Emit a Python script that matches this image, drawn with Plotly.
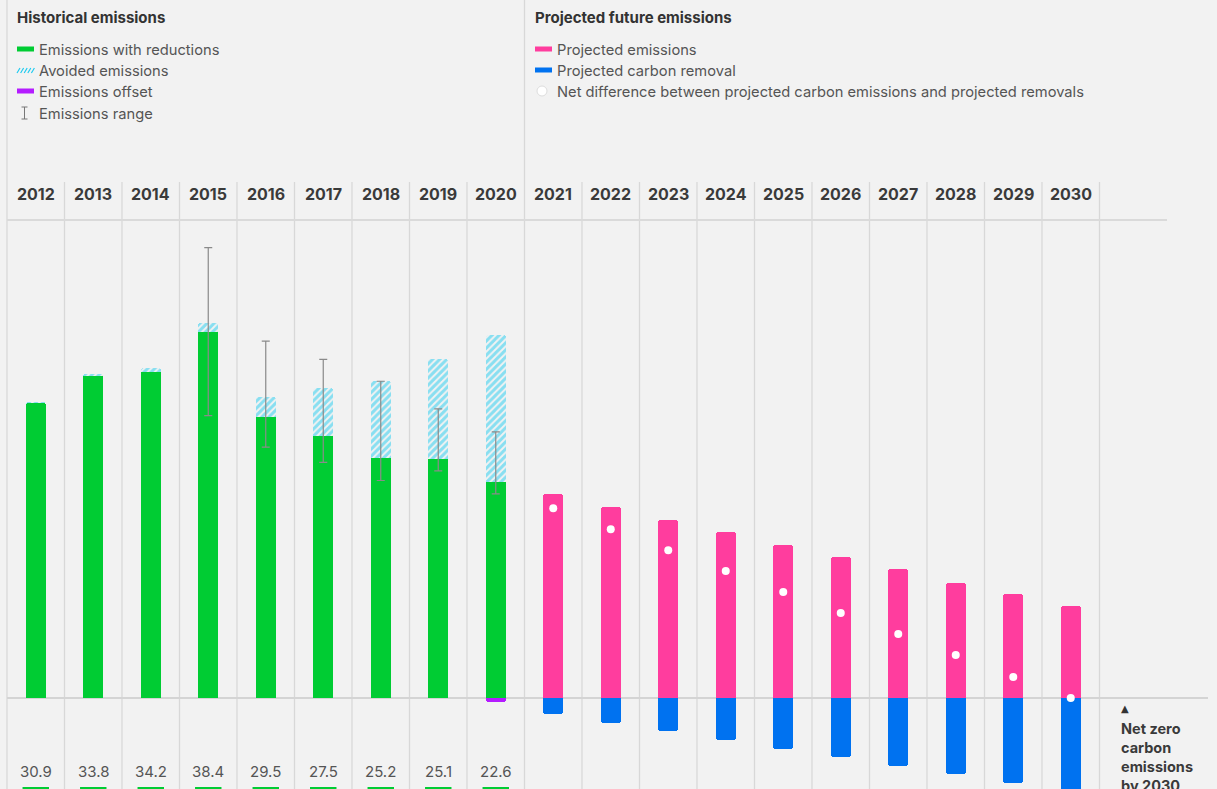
import plotly.graph_objects as go

# ---------------- data ----------------
years = [str(y) for y in range(2012, 2031)]
hist_years = years[:9]
proj_years = years[9:]

emissions_with_reductions = [30.9, 33.8, 34.2, 38.4, 29.5, 27.5, 25.2, 25.1, 22.6]
avoided_emissions = [0.1, 0.2, 0.4, 0.9, 2.1, 5.0, 8.0, 10.4, 15.4]
emissions_offset = [0, 0, 0, 0, 0, 0, 0, 0, -0.4]
range_low = [None, None, None, 29.6, 26.3, 24.7, 22.8, 23.8, 21.4]
range_high = [None, None, None, 47.2, 37.4, 35.5, 33.2, 30.3, 27.9]

projected_emissions = [21.4, 20.0, 18.7, 17.4, 16.0, 14.8, 13.5, 12.1, 10.9, 9.6]
projected_removal = [-1.7, -2.6, -3.5, -4.4, -5.3, -6.2, -7.1, -8.0, -8.9, -9.6]
net_difference = [19.9, 17.7, 15.5, 13.3, 11.1, 8.9, 6.7, 4.5, 2.2, 0.0]

hist_labels = ["30.9", "33.8", "34.2", "38.4", "29.5", "27.5", "25.2", "25.1", "22.6"]

# ---------------- styles ----------------
GREEN = "#00cc33"
CYAN = "#1ecbf0"
PURPLE = "#b41cff"
PINK = "#ff3d9e"
BLUE = "#0072f0"
BG = "#f2f2f2"
GRID = "#d8d8d8"
FONT = "Inter"
W, H = 1217, 789
DX = -2  # left text padding compensation

idx = {y: i for i, y in enumerate(years)}
hx = [idx[y] for y in hist_years]
px_ = [idx[y] for y in proj_years]

fig = go.Figure()

tot = [a + b for a, b in zip(emissions_with_reductions, avoided_emissions)]
fig.add_trace(go.Bar(
    x=hx, y=tot, width=0.34,
    marker=dict(color="rgba(0,0,0,0)", line=dict(width=0),
                pattern=dict(shape="/", fgcolor=CYAN, bgcolor="rgba(0,0,0,0)",
                             size=5, solidity=0.6)),
    hoverinfo="skip", showlegend=False))
fig.add_trace(go.Bar(x=hx, y=emissions_with_reductions, width=0.34,
                     marker=dict(color=GREEN, line=dict(width=0)),
                     showlegend=False))
fig.add_trace(go.Bar(x=hx, y=emissions_offset, width=0.34,
                     marker=dict(color=PURPLE, line=dict(width=0)),
                     showlegend=False))
fig.add_trace(go.Bar(x=px_, y=projected_emissions, width=0.34,
                     marker=dict(color=PINK, line=dict(width=0)),
                     showlegend=False))
fig.add_trace(go.Bar(x=px_, y=projected_removal, width=0.34,
                     marker=dict(color=BLUE, line=dict(width=0)),
                     showlegend=False))

# error ranges
ex, ey, eh = [], [], []
for i, lo, hi in zip(hx, range_low, range_high):
    if lo is not None:
        ex.append(i); ey.append(lo); eh.append(hi - lo)
fig.add_trace(go.Scatter(
    x=ex, y=ey, mode="markers", marker=dict(size=0.1, color="rgba(0,0,0,0)"),
    error_y=dict(type="data", symmetric=False, array=eh, arrayminus=[0] * len(eh),
                 color="#8a8a8a", thickness=1.2, width=4),
    showlegend=False, hoverinfo="skip"))

fig.add_trace(go.Scatter(x=px_, y=net_difference, mode="markers",
                         marker=dict(size=8, color="white", line=dict(width=0)),
                         showlegend=False))

shapes = []
annotations = []

def pxx(p):
    return p / W

def pyy(p):
    return 1 - p / H

# vertical separators
for k in range(len(years) + 1):
    xb = k - 0.5
    y0p = 0 if k in (0, 9) else 182
    shapes.append(dict(type="line", xref="x", yref="paper", x0=xb, x1=xb,
                       y0=pyy(y0p), y1=pyy(H + 5), line=dict(color=GRID, width=1.3),
                       layer="below"))
# top header line
shapes.append(dict(type="line", xref="paper", yref="paper", x0=pxx(7), x1=pxx(1167),
                   y0=pyy(220), y1=pyy(220), line=dict(color="#dadada", width=2), layer="below"))
# zero line
shapes.append(dict(type="line", xref="paper", yref="y", x0=pxx(7), x1=pxx(1208),
                   y0=0, y1=0, line=dict(color="#d4d4d4", width=2), layer="below"))

# year labels
for y in years:
    annotations.append(dict(x=idx[y], y=pyy(194), xref="x", yref="paper", text=f"<b>{y}</b>",
                            showarrow=False, font=dict(family=FONT, size=16, color="#3a3a3a"),
                            xanchor="center", yanchor="middle"))

# bottom value labels and small green markers
for y, lab in zip(hist_years, hist_labels):
    annotations.append(dict(x=idx[y], y=pyy(771), xref="x", yref="paper", text=lab,
                            showarrow=False, font=dict(family=FONT, size=15, color="#555555"),
                            xanchor="center", yanchor="middle"))
    shapes.append(dict(type="rect", xref="x", yref="paper", x0=idx[y] - 0.23, x1=idx[y] + 0.23,
                       y0=pyy(792), y1=pyy(787), fillcolor=GREEN, line=dict(width=0)))

# legend: titles
annotations.append(dict(x=pxx(17 + DX), y=pyy(18), xref="paper", yref="paper",
                        text="<b>Historical emissions</b>", showarrow=False,
                        font=dict(family=FONT, size=15, color="#333333"),
                        xanchor="left", yanchor="middle"))
annotations.append(dict(x=pxx(535 + DX), y=pyy(18), xref="paper", yref="paper",
                        text="<b>Projected future emissions</b>", showarrow=False,
                        font=dict(family=FONT, size=15, color="#333333"),
                        xanchor="left", yanchor="middle"))

def leg_text(x, y, t):
    annotations.append(dict(x=pxx(x + DX), y=pyy(y + 1), xref="paper", yref="paper", text=t,
                            showarrow=False, font=dict(family=FONT, size=14.7, color="#555555"),
                            xanchor="left", yanchor="middle"))

def leg_rect(x, y, c):
    shapes.append(dict(type="rect", xref="paper", yref="paper", x0=pxx(x), x1=pxx(x + 17),
                       y0=pyy(y + 2.5), y1=pyy(y - 2.5), fillcolor=c, line=dict(width=0)))

leg_rect(17, 49, GREEN); leg_text(39, 49, "Emissions with reductions")
for k in range(5):
    sx = 17 + k * 3.6
    shapes.append(dict(type="line", xref="paper", yref="paper", x0=pxx(sx), x1=pxx(sx + 3),
                       y0=pyy(73), y1=pyy(68), line=dict(color=CYAN, width=1.2)))
leg_text(39, 70, "Avoided emissions")
leg_rect(17, 91, PURPLE); leg_text(39, 91, "Emissions offset")
shapes.append(dict(type="line", xref="paper", yref="paper", x0=pxx(24.5), x1=pxx(24.5),
                   y0=pyy(107), y1=pyy(119), line=dict(color="#777777", width=1)))
shapes.append(dict(type="line", xref="paper", yref="paper", x0=pxx(21.5), x1=pxx(27.5),
                   y0=pyy(107), y1=pyy(107), line=dict(color="#777777", width=1)))
shapes.append(dict(type="line", xref="paper", yref="paper", x0=pxx(21.5), x1=pxx(27.5),
                   y0=pyy(119), y1=pyy(119), line=dict(color="#777777", width=1)))
leg_text(39, 113, "Emissions range")

leg_rect(535, 49, PINK); leg_text(557, 49, "Projected emissions")
leg_rect(535, 70, BLUE); leg_text(557, 70, "Projected carbon removal")
shapes.append(dict(type="circle", xref="paper", yref="paper", x0=pxx(537), x1=pxx(547),
                   y0=pyy(96), y1=pyy(86), fillcolor="white", line=dict(color="#dddddd", width=1)))
leg_text(557, 91, "Net difference between projected carbon emissions and projected removals")

# net zero note
annotations.append(dict(x=pxx(1121 + DX), y=pyy(708), xref="paper", yref="paper", text="▲",
                        showarrow=False, font=dict(family="DejaVu Sans", size=10, color="#333333"),
                        xanchor="left", yanchor="middle"))
annotations.append(dict(x=pxx(1121 + DX), y=pyy(718), xref="paper", yref="paper",
                        text="<b>Net zero<br>carbon<br>emissions<br>by 2030</b>",
                        showarrow=False, align="left",
                        font=dict(family=FONT, size=14.5, color="#3a3a3a"),
                        xanchor="left", yanchor="top"))

fig.update_layout(
    width=W, height=H,
    margin=dict(l=0, r=0, t=0, b=0),
    paper_bgcolor=BG, plot_bgcolor=BG,
    barmode="overlay", barcornerradius=3, bargap=0,
    xaxis=dict(range=[-35.75 / 57.5, (W - 35.75) / 57.5], visible=False, fixedrange=True),
    yaxis=dict(range=[-(H - 698) / 9.54, 698 / 9.54], visible=False, fixedrange=True),
    shapes=shapes, annotations=annotations,
    font=dict(family=FONT),
    showlegend=False,
)

fig.write_html("out.html", config={"displayModeBar": False},
               post_script="document.body.style.margin='0';document.body.style.overflow='hidden';")
